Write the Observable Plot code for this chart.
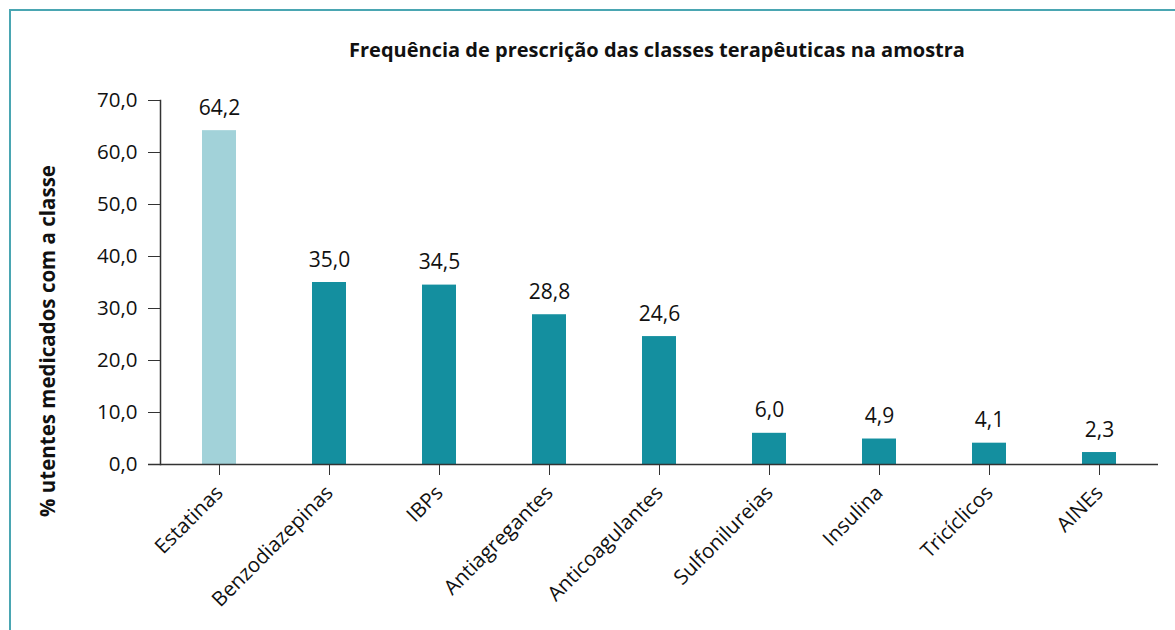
<!DOCTYPE html>
<html>
<head>
<meta charset="utf-8">
<script src="https://cdn.jsdelivr.net/npm/d3@7"></script>
<script src="https://cdn.jsdelivr.net/npm/@observablehq/plot@0.6"></script>
<style>
  html, body { margin: 0; padding: 0; background: #fff; }
  #wrap { position: relative; width: 1175px; height: 630px; overflow: hidden; font-family: "Open Sans", sans-serif; }
  #border { position: absolute; left: 9px; top: 9px; right: -10px; bottom: -10px; border-left: 2px solid #4aa6b2; border-top: 2px solid #4aa6b2; }
  #title { position: absolute; left: 0; width: 1314px; top: 36px; text-align: center; font-weight: 700; font-size: 20px; color: #111; }
  #ylabel { position: absolute; left: 47px; top: 341px; transform: translate(-50%, -50%) rotate(-90deg); white-space: nowrap; font-weight: 700; font-size: 20.5px; color: #111; }
  #chart { position: absolute; left: 0; top: 0; }
</style>
</head>
<body>
<div id="wrap">
  <div id="border"></div>
  <div id="chart"></div>
  <div id="title">Frequência de prescrição das classes terapêuticas na amostra</div>
  <div id="ylabel"></div>
</div>
<script>
const categories = ["Estatinas", "Benzodiazepinas", "IBPs", "Antiagregantes", "Anticoagulantes", "Sulfonilureias", "Insulina", "Tricíclicos", "AINEs"];
const values = [64.2, 35.0, 34.5, 28.8, 24.6, 6.0, 4.9, 4.1, 2.3];
const yTicks = [0, 10, 20, 30, 40, 50, 60, 70];
const highlighted = "Estatinas";
const yLabel = "% utentes medicados com a classe";

document.getElementById("ylabel").textContent = yLabel;

const data = categories.map((c, i) => ({category: c, value: values[i]}));
const fmt = v => v.toFixed(1).replace(".", ",");

const plot = Plot.plot({
  width: 1175,
  height: 630,
  marginLeft: 160,
  marginRight: 17,
  marginTop: 100,
  marginBottom: 166,
  style: {fontFamily: "'Open Sans', sans-serif", color: "#111", background: "transparent"},
  x: {domain: categories, paddingInner: 0.69, paddingOuter: 0.35, label: null},
  y: {domain: [0, 70], label: null},
  marks: [
    Plot.barY(data, {x: "category", y: "value", fill: d => d.category === highlighted ? "#a2d2d9" : "#148f9f"}),
    Plot.text(data, {x: "category", y: "value", text: d => fmt(d.value), lineAnchor: "bottom", dy: -16, fontSize: 21, fill: "#111"}),
    Plot.ruleY([0], {stroke: "#333", strokeWidth: 1.5, insetLeft: -12}),
    Plot.frame({anchor: "left", stroke: "#333", strokeWidth: 1.5}),
    Plot.axisY({ticks: yTicks, tickFormat: fmt, tickSize: 12, tickPadding: 11, fontSize: 20.5, stroke: "#333", label: null}),
    Plot.axisX({tickSize: 11, tickRotate: -45, tickPadding: 14, fontSize: 20.5, stroke: "#333", label: null})
  ]
});
document.getElementById("chart").appendChild(plot);
</script>
</body>
</html>
